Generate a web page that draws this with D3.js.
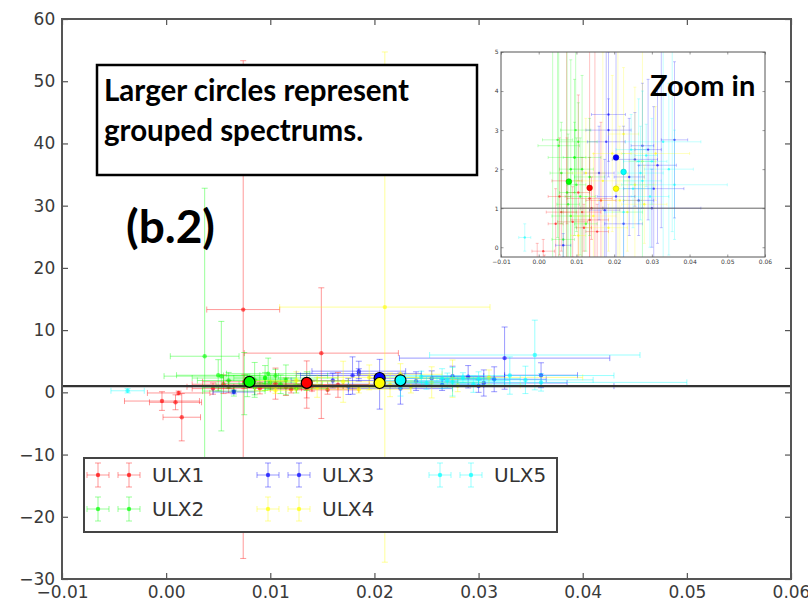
<!DOCTYPE html>
<html>
<head>
<meta charset="utf-8">
<script src="https://cdn.jsdelivr.net/npm/d3@7"></script>
<style>
  body { margin: 0; background: #fff; }
</style>
</head>
<body>
<div id="chart"></div>
<script>
// series: [x, y, xerr, yerr]
var ulx1 = [
  [0.0074, 13.3, 0.0035, 40], [0.0149, 6.3, 0.0074, 10.5],
  [-0.0004, -1.4, 0.0036, 1.5], [0.0009, -1.6, 0.0025, 1.2], [0.0015, -4.0, 0.0018, 3.8],
  [0.0012, -0.1, 0.003, 0.3], [0.0055, 1.3, 0.003, 1.5], [0.006, 0.9, 0.004, 1.0],
  [0.009, 0.65, 0.004, 0.9], [0.0105, 1.4, 0.003, 2.5], [0.0135, 0.7, 0.005, 1.6],
  [0.0135, 1.25, 0.006, 3.8], [0.014, 1.0, 0.003, 0.8], [0.012, 0.5, 0.002, 0.6],
  [0.0165, 1.2, 0.004, 2.0], [0.0045, 0.6, 0.002, 0.9], [0.0075, 1.7, 0.004, 1.1],
  [0.0115, 0.9, 0.005, 1.4], [0.0155, 0.4, 0.003, 0.7]
];
var ulx2 = [
  [0.0037, 5.8, 0.0033, 27], [0.0053, 2.6, 0.0055, 8.8], [0.005, 2.75, 0.004, 2.5],
  [0.0065, 0.2, 0.003, 0.8], [0.0078, 1.1, 0.003, 1.8], [0.0095, 2.3, 0.003, 2.0],
  [0.0098, 3.0, 0.004, 2.5], [0.010, 1.6, 0.0025, 1.2], [0.011, 1.3, 0.004, 1.5],
  [0.0085, 0.8, 0.005, 1.2], [0.0115, 2.0, 0.003, 2.4], [0.0125, 0.6, 0.003, 0.7],
  [0.0095, 2.3, 0.007, 0.9], [0.0075, 1.4, 0.002, 5], [0.006, 1.9, 0.003, 1.3],
  [0.0105, 2.7, 0.005, 1.0], [0.0135, 1.8, 0.004, 1.5], [0.0085, 2.0, 0.003, 2.8]
];
var ulx3 = [
  [0.0325, 5.5, 0.0101, 5.0], [0.0179, 2.7, 0.005, 3.0], [0.0065, 0.05, 0.002, 0.3],
  [0.0185, 3.4, 0.0045, 1.6], [0.0185, 3.0, 0.006, 0.8], [0.0175, 0.95, 0.004, 1.3],
  [0.024, 1.8, 0.004, 1.5], [0.0255, 2.25, 0.006, 1.2], [0.0275, 2.6, 0.003, 1.6],
  [0.029, 2.5, 0.0035, 1.8], [0.0305, 1.5, 0.008, 2.1], [0.0315, 2.1, 0.005, 2.0],
  [0.036, 2.75, 0.0035, 2.0], [0.0225, 0.6, 0.005, 2.5], [0.0205, 1.3, 0.005, 4],
  [0.030, 1.0, 0.013, 1.0], [0.016, 1.9, 0.004, 1.2], [0.0265, 1.2, 0.004, 0.9]
];
var ulx4 = [
  [0.021, 13.7, 0.0101, 41], [0.0145, 0.8, 0.006, 1.6], [0.017, 1.7, 0.007, 3.3],
  [0.0195, 2.4, 0.005, 2.0], [0.0215, 1.2, 0.006, 1.9], [0.0235, 0.9, 0.004, 1.0],
  [0.0255, 1.6, 0.005, 2.5], [0.0105, 0.3, 0.002, 0.5], [0.0275, 2.2, 0.0035, 3],
  [0.0185, 0.5, 0.005, 0.6], [0.028, 1.1, 0.006, 1.0], [0.031, 2.4, 0.009, 1.2],
  [0.0125, 1.9, 0.005, 1.4], [0.0225, 2.9, 0.004, 1.7]
];
var ulx5 = [
  [-0.0037, 0.25, 0.0016, 0.35], [0.0354, 6.0, 0.0101, 5.6], [0.033, 2.7, 0.010, 3.0],
  [0.0265, 2.2, 0.004, 1.6], [0.027, 1.9, 0.006, 1.2], [0.0275, 1.7, 0.005, 2.3],
  [0.0285, 2.35, 0.003, 0.8], [0.0345, 2.0, 0.0065, 2.2], [0.025, 1.5, 0.005, 1.0],
  [0.030, 2.2, 0.004, 1.1], [0.0225, 0.9, 0.005, 1.5], [0.036, 1.6, 0.014, 1.4],
  [0.0295, 1.3, 0.005, 1.3], [0.0245, 2.5, 0.004, 0.9]
];

// grouped spectra (large circles)
var grouped = [[0.0135, 1.52], [0.008, 1.68], [0.0205, 2.3], [0.0205, 1.5], [0.0225, 1.93]];

var names = ["ULX1", "ULX2", "ULX3", "ULX4", "ULX5"];
var colors = ["#ff0000", "#00ff00", "#0000ff", "#ffff00", "#00ffff"];
var series = [ulx1, ulx2, ulx3, ulx4, ulx5];

var xTicks = [-0.01, 0.00, 0.01, 0.02, 0.03, 0.04, 0.05, 0.06];
var yTicks = [-30, -20, -10, 0, 10, 20, 30, 40, 50, 60];
var insetYTicks = [0, 1, 2, 3, 4, 5];

var W = 808, H = 606;
var svg = d3.select("#chart").append("svg").attr("width", W).attr("height", H);

// main axes
var x = d3.scaleLinear().domain([-0.01, 0.06]).range([62, 791]);
var y = d3.scaleLinear().domain([-30, 60]).range([579, 19]);

// inset axes
var xi = d3.scaleLinear().domain([-0.01, 0.06]).range([501, 765]);
var yi = d3.scaleLinear().domain([-0.25, 5]).range([257, 52]);

function drawErr(g, xs, ys, data, color, cap, r, lw, op) {
  var e = g.append("g").attr("stroke", color).attr("stroke-opacity", op).attr("stroke-width", lw);
  data.forEach(function(d) {
    var cx = xs(d[0]), cy = ys(d[1]);
    var x0 = xs(d[0] - d[2]), x1 = xs(d[0] + d[2]);
    var y0 = ys(d[1] - d[3]), y1 = ys(d[1] + d[3]);
    e.append("line").attr("x1", x0).attr("x2", x1).attr("y1", cy).attr("y2", cy);
    e.append("line").attr("x1", cx).attr("x2", cx).attr("y1", y0).attr("y2", y1);
    e.append("line").attr("x1", x0).attr("x2", x0).attr("y1", cy - cap).attr("y2", cy + cap);
    e.append("line").attr("x1", x1).attr("x2", x1).attr("y1", cy - cap).attr("y2", cy + cap);
    e.append("line").attr("x1", cx - cap).attr("x2", cx + cap).attr("y1", y0).attr("y2", y0);
    e.append("line").attr("x1", cx - cap).attr("x2", cx + cap).attr("y1", y1).attr("y2", y1);
  });
  g.append("g").selectAll("circle").data(data).enter().append("circle")
    .attr("cx", function(d) { return xs(d[0]); })
    .attr("cy", function(d) { return ys(d[1]); })
    .attr("r", r).attr("fill", color).attr("fill-opacity", 0.6);
}

function frame(g, xs, ys, xt, yt, tick, fs, sw) {
  var x0 = xs.range()[0], x1 = xs.range()[1], y0 = ys.range()[0], y1 = ys.range()[1];
  var axes = [
    g.append("g").attr("transform", "translate(0," + y0 + ")").call(d3.axisBottom(xs).tickValues(xt).tickSize(-tick).tickSizeOuter(0).tickPadding(fs * 0.4).tickFormat(d3.format(".2f"))),
    g.append("g").attr("transform", "translate(0," + y1 + ")").call(d3.axisTop(xs).tickValues(xt).tickSize(-tick).tickSizeOuter(0).tickFormat("")),
    g.append("g").attr("transform", "translate(" + x0 + ",0)").call(d3.axisLeft(ys).tickValues(yt).tickSize(-tick).tickSizeOuter(0).tickPadding(fs * 0.4).tickFormat(d3.format("d"))),
    g.append("g").attr("transform", "translate(" + x1 + ",0)").call(d3.axisRight(ys).tickValues(yt).tickSize(-tick).tickSizeOuter(0).tickFormat(""))
  ];
  axes.forEach(function(a) {
    a.select(".domain").remove();
    a.selectAll(".tick line").attr("stroke", "#555").attr("stroke-width", sw * 0.6);
    a.selectAll("text").attr("font-size", fs).attr("fill", "#3a3a3a").style("font-family", "DejaVu Sans, sans-serif");
  });
  g.append("rect").attr("x", x0).attr("y", y1).attr("width", x1 - x0).attr("height", y0 - y1)
    .attr("fill", "none").attr("stroke", "#555").attr("stroke-width", sw);
}

// clip paths
var defs = svg.append("defs");
defs.append("clipPath").attr("id", "clipMain").append("rect")
  .attr("x", 62).attr("y", 19).attr("width", 729).attr("height", 560);
defs.append("clipPath").attr("id", "clipInset").append("rect")
  .attr("x", 501).attr("y", 52).attr("width", 264).attr("height", 205);

// main plot
var main = svg.append("g").attr("clip-path", "url(#clipMain)");
series.forEach(function(s, i) { drawErr(main, x, y, s, colors[i], 3, 2.2, 1, 0.4); });
main.append("line").attr("x1", 62).attr("x2", 791).attr("y1", y(1)).attr("y2", y(1))
  .attr("stroke", "#333").attr("stroke-width", 2.2);
main.append("g").selectAll("circle").data(grouped).enter().append("circle")
  .attr("cx", function(d) { return x(d[0]); })
  .attr("cy", function(d) { return y(d[1]); })
  .attr("r", 5.5).attr("fill", function(d, i) { return colors[i]; })
  .attr("stroke", "#000").attr("stroke-width", 1.2);
frame(svg.append("g"), x, y, xTicks, yTicks, 6, 17, 2);

// text box
var lato = "Lato, sans-serif";
svg.append("rect").attr("x", 97).attr("y", 65).attr("width", 380).attr("height", 110)
  .attr("fill", "#fff").attr("stroke", "#000").attr("stroke-width", 2.5);
svg.append("text").attr("x", 104).attr("y", 101).attr("font-size", 29.5).style("font-family", lato)
  .attr("font-weight", 700).text("Larger circles represent");
svg.append("text").attr("x", 104).attr("y", 141).attr("font-size", 29.5).style("font-family", lato)
  .attr("font-weight", 700).text("grouped spectrums.");
svg.append("text").attr("x", 126).attr("y", 243).attr("font-size", 46).style("font-family", lato)
  .attr("font-weight", 700).text("(b.2)");

// inset
svg.append("rect").attr("x", 501).attr("y", 52).attr("width", 264).attr("height", 205).attr("fill", "#fff");
var inset = svg.append("g").attr("clip-path", "url(#clipInset)");
series.forEach(function(s, i) { drawErr(inset, xi, yi, s, colors[i], 1.5, 1.2, 0.8, 0.3); });
inset.append("line").attr("x1", 501).attr("x2", 765).attr("y1", yi(1)).attr("y2", yi(1))
  .attr("stroke", "#666").attr("stroke-width", 1);
inset.append("g").selectAll("circle").data(grouped).enter().append("circle")
  .attr("cx", function(d) { return xi(d[0]); })
  .attr("cy", function(d) { return yi(d[1]); })
  .attr("r", 2.8).attr("fill", function(d, i) { return colors[i]; })
  .attr("stroke", function(d, i) { return d3.color(colors[i]).darker(0.6); }).attr("stroke-width", 0.6);
frame(svg.append("g"), xi, yi, xTicks, insetYTicks, 2.5, 6, 1);
svg.append("text").attr("x", 650).attr("y", 96).attr("font-size", 29).style("font-family", lato)
  .attr("font-weight", 700).text("Zoom in");

// legend
var leg = svg.append("g");
leg.append("rect").attr("x", 84).attr("y", 458).attr("width", 473).attr("height", 74)
  .attr("fill", "#fff").attr("stroke", "#444").attr("stroke-width", 2);
var legX = [98, 268, 440], legY = [475, 509];
names.forEach(function(n, i) {
  var col = Math.floor(i / 2), row = i % 2;
  var lx = legX[col], ly = legY[row];
  [lx, lx + 31].forEach(function(mx) {
    var g = leg.append("g").attr("stroke", colors[i]).attr("stroke-opacity", 0.4).attr("stroke-width", 1);
    g.append("line").attr("x1", mx - 11).attr("x2", mx + 11).attr("y1", ly).attr("y2", ly);
    g.append("line").attr("x1", mx).attr("x2", mx).attr("y1", ly - 12).attr("y2", ly + 12);
    g.append("line").attr("x1", mx - 11).attr("x2", mx - 11).attr("y1", ly - 3).attr("y2", ly + 3);
    g.append("line").attr("x1", mx + 11).attr("x2", mx + 11).attr("y1", ly - 3).attr("y2", ly + 3);
    g.append("line").attr("x1", mx - 3).attr("x2", mx + 3).attr("y1", ly - 12).attr("y2", ly - 12);
    g.append("line").attr("x1", mx - 3).attr("x2", mx + 3).attr("y1", ly + 12).attr("y2", ly + 12);
    leg.append("circle").attr("cx", mx).attr("cy", ly).attr("r", 2.2).attr("fill", colors[i]).attr("fill-opacity", 0.7);
  });
  leg.append("text").attr("x", lx + 54).attr("y", ly + 7).attr("font-size", 20).attr("fill", "#333")
    .style("font-family", "DejaVu Sans, sans-serif").text(n);
});
</script>
</body>
</html>
